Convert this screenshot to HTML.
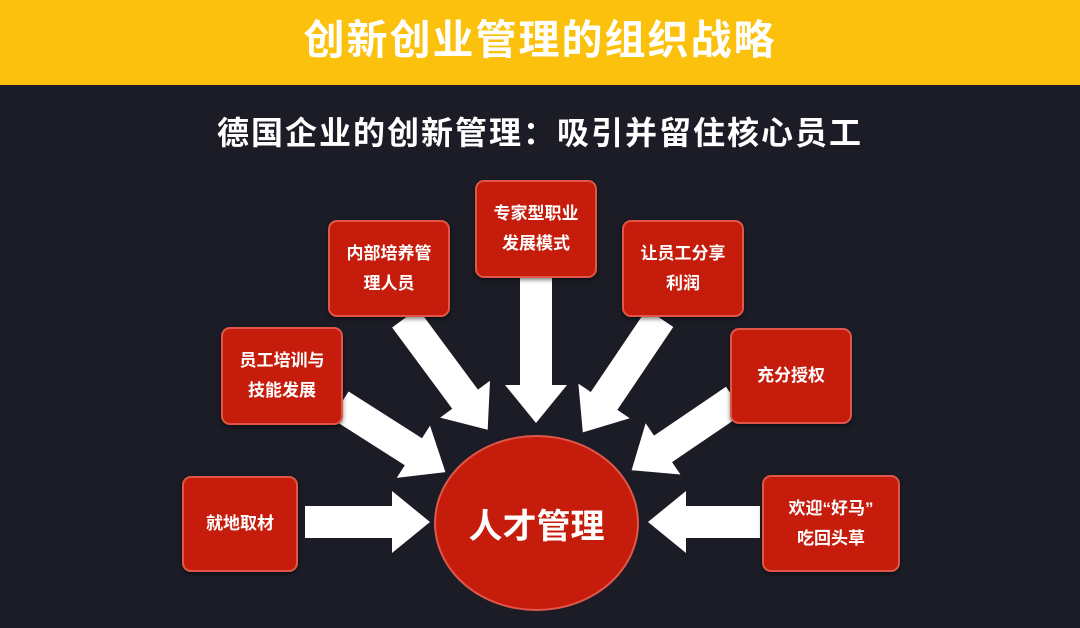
<!DOCTYPE html>
<html><head><meta charset="utf-8"><style>
body{margin:0;width:1080px;height:628px;overflow:hidden;background:#1b1c26;font-family:"Liberation Sans","Noto Sans CJK SC",sans-serif;position:relative}
.hdr{position:absolute;left:0;top:0;width:1080px;height:85px;background:#fcc10c;color:#fff;font-weight:bold;font-size:41px;letter-spacing:2px;text-align:center;line-height:80px}
.sub{position:absolute;left:0;top:110px;width:1080px;text-align:center;color:#fff;font-weight:bold;font-size:32px;letter-spacing:2px;line-height:46px}
.bx{position:absolute;background:#c51c0c;border:2px solid #e0574a;border-radius:9px;box-sizing:border-box;color:#fff;font-weight:bold;font-size:17px;line-height:30px;display:flex;align-items:center;justify-content:center;text-align:center;box-shadow:0 2px 4px rgba(0,0,0,.5)}
.c{position:absolute;left:434px;top:435px;width:205px;height:176px;border-radius:50%;background:#c51c0c;border:2px solid #e0574a;box-sizing:border-box;color:#fff;font-weight:bold;font-size:34px;display:flex;align-items:center;justify-content:center}
svg{position:absolute;left:0;top:0}
</style></head><body>
<div class="hdr">创新创业管理的组织战略</div>
<div class="sub">德国企业的创新管理：吸引并留住核心员工</div>
<svg width="1080" height="628" fill="#fff">
<polygon transform="translate(305,522)" points="0,-16 87,-16 87,-31 125,0 87,31 87,16 0,16"/>
<polygon transform="translate(340,405) rotate(32.5)" points="0,-16 87,-16 87,-31 125,0 87,31 87,16 0,16"/>
<polygon transform="translate(405,318) rotate(53.5)" points="0,-16 101,-16 101,-31 139,0 101,31 101,16 0,16"/>
<polygon transform="translate(536,278) rotate(90)" points="0,-16 107,-16 107,-31 145,0 107,31 107,16 0,16"/>
<polygon transform="translate(660,318) rotate(124)" points="0,-16 100,-16 100,-31 138,0 100,31 100,16 0,16"/>
<polygon transform="translate(735,400) rotate(145.8)" points="0,-16 87,-16 87,-31 125,0 87,31 87,16 0,16"/>
<polygon transform="translate(760,522) rotate(180)" points="0,-16 74,-16 74,-31 112,0 74,31 74,16 0,16"/>
</svg>
<div class="c">人才管理</div>
<div class="bx" style="left:182px;top:476px;width:116px;height:96px">就地取材</div>
<div class="bx" style="left:221px;top:327px;width:122px;height:98px">员工培训与<br>技能发展</div>
<div class="bx" style="left:328px;top:220px;width:122px;height:97px">内部培养管<br>理人员</div>
<div class="bx" style="left:475px;top:180px;width:122px;height:98px">专家型职业<br>发展模式</div>
<div class="bx" style="left:622px;top:220px;width:122px;height:97px">让员工分享<br>利润</div>
<div class="bx" style="left:730px;top:328px;width:122px;height:96px">充分授权</div>
<div class="bx" style="left:762px;top:475px;width:138px;height:97px">欢迎“好马”<br>吃回头草</div>
</body></html>
